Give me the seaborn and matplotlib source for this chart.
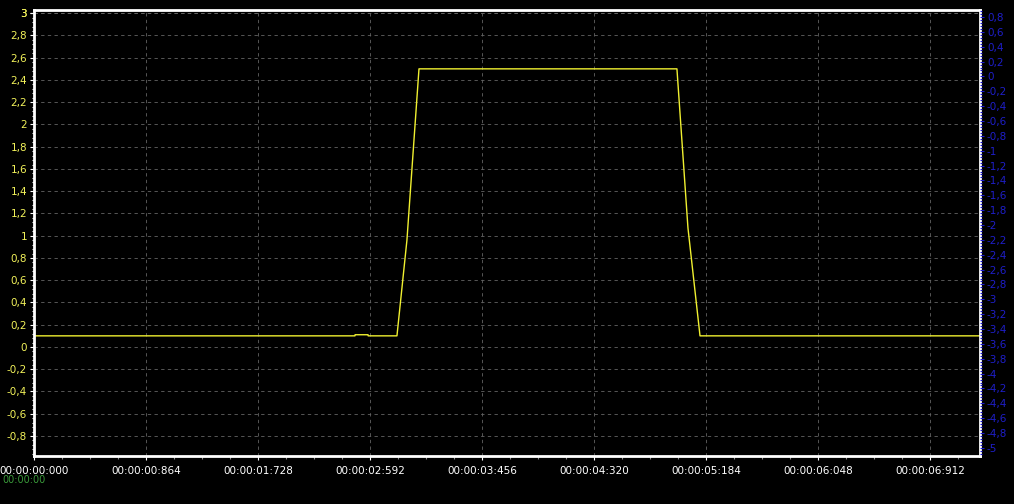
import matplotlib
matplotlib.use("Agg")
import matplotlib.pyplot as plt
from matplotlib.ticker import FuncFormatter, MultipleLocator
import seaborn as sns
import pandas as pd

# signal samples (seconds, value)
t_sec = [0.0, 2.476, 2.477, 2.577, 2.578, 2.800, 2.877, 2.970, 4.960, 5.045, 5.138, 7.298]
value = [0.10, 0.10, 0.11, 0.11, 0.10, 0.10, 0.96, 2.50, 2.50, 1.07, 0.10, 0.10]

x_step = 0.864
left_ticks = [round(-0.8 + 0.2 * i, 1) for i in range(20)]
right_ticks = [round(0.8 - 0.2 * i, 1) for i in range(30)]


def fmt_num(v, pos=None):
    v = round(v, 1)
    if abs(v - round(v)) < 1e-9:
        return str(int(round(v)))
    return ("%.1f" % v).replace(".", ",")


def fmt_time(v, pos=None):
    ms = int(round(v * 1000))
    h, ms = divmod(ms, 3600000)
    m, ms = divmod(ms, 60000)
    s, ms = divmod(ms, 1000)
    return "%02d:%02d:%02d:%03d" % (h, m, s, ms)


sns.set_style("dark")
plt.rcParams['font.family'] = ['DejaVu Sans']

fig = plt.figure(figsize=(10.14, 5.04), dpi=100, facecolor="black")
ax = fig.add_axes([34 / 1014, 48 / 504, 946 / 1014, 446 / 504])
ax.set_facecolor("black")

df = pd.DataFrame({"t": t_sec, "v": value})
sns.lineplot(data=df, x="t", y="v", ax=ax, color="#f0f030", linewidth=1.0)

ax.set_xlim(0, 7.298)
ax.set_ylim(-0.98, 3.029)
ax.set_xlabel("")
ax.set_ylabel("")

ax.set_yticks(left_ticks + [3.0])
ax.yaxis.set_major_formatter(FuncFormatter(fmt_num))
ax.yaxis.set_minor_locator(MultipleLocator(0.04))
ax.set_xticks([x_step * i for i in range(9)])
ax.xaxis.set_major_formatter(FuncFormatter(fmt_time))
ax.xaxis.set_minor_locator(MultipleLocator(x_step / 4))

ax.grid(True, which="major", color="#646464", linestyle=(0, (4, 4)), linewidth=0.6)
ax.tick_params(axis="y", which="major", colors="white", labelcolor="#f2f25a",
               labelsize=7.5, length=3, width=0.8, direction="out", pad=2)
ax.tick_params(axis="y", which="minor", colors="white", length=1.5, width=0.8, left=True)
ax.tick_params(axis="x", which="major", colors="white", labelcolor="white",
               labelsize=7.5, length=3, width=0.8, pad=4, bottom=True)
ax.tick_params(axis="x", which="minor", colors="#888888", length=2, width=0.8, bottom=True)
for sp in ax.spines.values():
    sp.set_visible(True)
    sp.set_color("white")
    sp.set_linewidth(2)

ax2 = ax.twinx()
ax2.set_ylim(-5.109, 0.894)
ax2.set_yticks(right_ticks)
ax2.yaxis.set_major_formatter(FuncFormatter(fmt_num))
ax2.yaxis.set_minor_locator(MultipleLocator(0.04))
ax2.tick_params(axis="y", which="major", colors="#1a1ad0", labelcolor="#1e1ec8",
                labelsize=7.5, length=3, width=0.8, pad=2)
ax2.tick_params(axis="y", which="minor", colors="#1a1ad0", length=1.5, width=0.8, right=True)
ax2.grid(False)
for sp in ax2.spines.values():
    sp.set_visible(False)

fig.text(2 / 1014, 1 - 480 / 504, "00:00:00", color="#3a9a3a", fontsize=7,
         va="center", ha="left")

fig.savefig("out.png", dpi=100, facecolor="black")
